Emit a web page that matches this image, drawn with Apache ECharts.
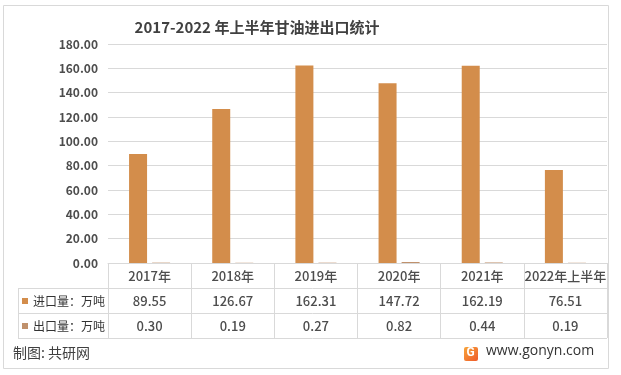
<!DOCTYPE html>
<html><head><meta charset="utf-8">
<script src="https://cdn.jsdelivr.net/npm/echarts@6/dist/echarts.min.js"></script>
<style>html,body{margin:0;padding:0;background:#fff}#c{width:621px;height:375px}</style>
</head><body><div id="c"></div>
<script>
const categories = ['2017年','2018年','2019年','2020年','2021年','2022年上半年'];
const importValues = [89.55,126.67,162.31,147.72,162.19,76.51];
const exportValues = [0.30,0.19,0.27,0.82,0.44,0.19];
const seriesNames = ['进口量：万吨','出口量：万吨'];
const yTicks = [0,20,40,60,80,100,120,140,160,180];

const FONT = '"Noto Sans CJK SC","Microsoft YaHei",sans-serif';
const chart = echarts.init(document.getElementById('c'));
const txt = '#4d4d4d', line = '#d9d9d9';

chart.setOption({
  animation:false,
  title:{text:'2017-2022 年上半年甘油进出口统计',left:252,textAlign:'center',top:15,
    textStyle:{fontFamily:FONT,fontSize:15,fontWeight:'bold',color:'#404040'}},
  legend:{orient:'vertical',left:22,top:294,padding:0,itemWidth:6,itemHeight:6,itemGap:11,icon:'rect',
    selectedMode:false,
    textStyle:{fontFamily:FONT,fontSize:12,color:'#333',lineHeight:14},
    data:seriesNames},
  grid:{left:108,right:14,top:44,bottom:112},
  xAxis:{type:'category',data:categories,
    axisLine:{show:true,lineStyle:{color:line}},
    axisTick:{show:true,length:75,interval:0,lineStyle:{color:line}},
    axisLabel:{interval:0,margin:1,
      formatter:(v,i)=>'{c|'+v+'}\n{v|'+importValues[i].toFixed(2)+'}\n{v|'+exportValues[i].toFixed(2)+'}',
      rich:{c:{fontFamily:FONT,fontSize:13,color:txt,lineHeight:25,height:25,fontWeight:500},
            v:{fontFamily:FONT,fontSize:13,color:txt,lineHeight:25,height:25,fontWeight:500}}}},
  yAxis:{type:'value',min:yTicks[0],max:yTicks[yTicks.length-1],interval:20,
    axisLine:{show:false},axisTick:{show:false},
    splitLine:{lineStyle:{color:line}},
    axisLabel:{margin:10,formatter:v=>v.toFixed(2),
      fontFamily:FONT,fontSize:12,color:txt,fontWeight:'bold'}},
  series:[
    {name:seriesNames[0],type:'bar',data:importValues,barWidth:18,barGap:'28%',itemStyle:{color:'#d38d4b'}},
    {name:seriesNames[1],type:'bar',data:exportValues,barWidth:18,itemStyle:{color:'#c0916c'}}
  ],
  graphic:[
    {type:'rect',shape:{x:3.5,y:5.5,width:605,height:363},style:{fill:'none',stroke:line,lineWidth:1},silent:true},
    {type:'line',shape:{x1:18,y1:288.5,x2:607,y2:288.5},style:{stroke:line,lineWidth:1}},
    {type:'line',shape:{x1:18,y1:313.5,x2:607,y2:313.5},style:{stroke:line,lineWidth:1}},
    {type:'line',shape:{x1:18,y1:338.5,x2:607,y2:338.5},style:{stroke:line,lineWidth:1}},
    {type:'line',shape:{x1:18.5,y1:288,x2:18.5,y2:338},style:{stroke:line,lineWidth:1}},
    {type:'text',left:13,top:346,style:{text:'制图: 共研网',fontFamily:FONT,fontSize:14,fill:'#404040'}},
    {type:'rect',shape:{x:464,y:347,width:14,height:14,r:2},
      style:{fill:new echarts.graphic.LinearGradient(0,0,1,1,[{offset:0,color:'#f7a53a'},{offset:1,color:'#ef5a2a'}])}},
    {type:'text',left:466.5,top:347,style:{text:'G',fontFamily:'Roboto',fontWeight:'bold',fontSize:12,fill:'#fff'}},
    {type:'text',left:486,top:344,style:{text:'www.gonyn.com',fontFamily:'"Open Sans",sans-serif',fontSize:14,fill:'#333'}}
  ]
});
</script></body></html>
